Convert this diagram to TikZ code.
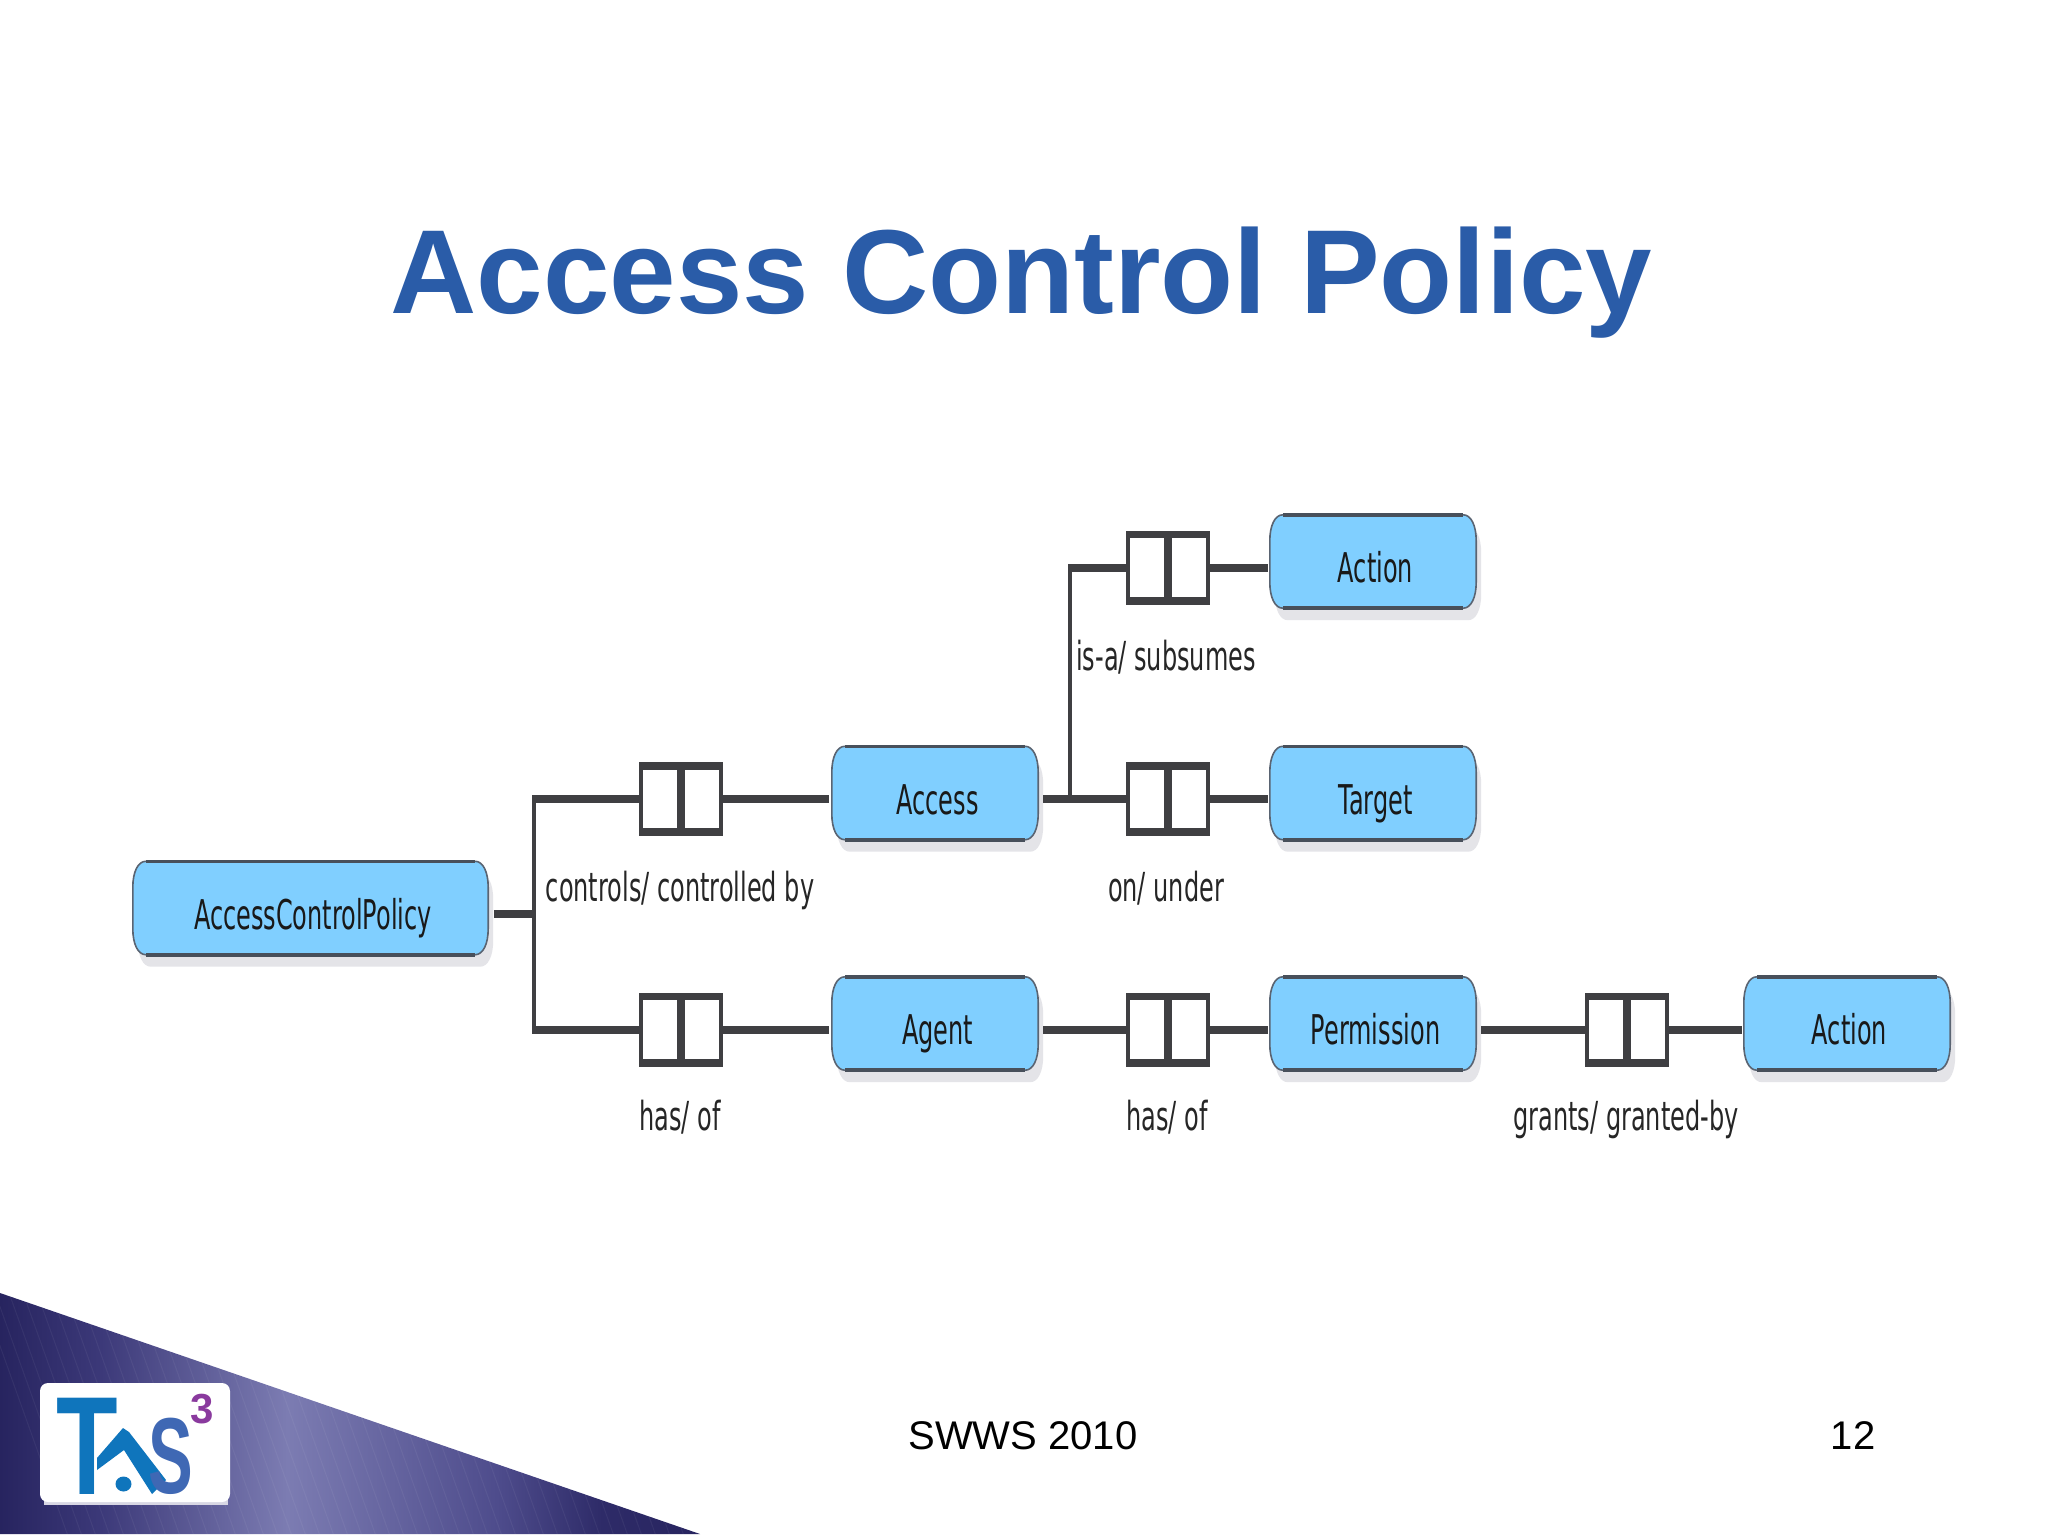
\documentclass[tikz,border=0pt]{standalone}
\usepackage{fontspec}
\usetikzlibrary{backgrounds}
\setmainfont{Liberation Sans}
\newfontfamily\lblfont[FakeStretch=0.585]{DejaVu Sans}
\newfontfamily\relfont[FakeStretch=0.60]{DejaVu Sans}
\definecolor{titleblue}{HTML}{2A5CA8}
\definecolor{boxblue}{HTML}{80CFFF}
\definecolor{edgegray}{HTML}{5A6472}
\definecolor{linedark}{HTML}{3F3F42}
\definecolor{shadowgray}{HTML}{E4E4E8}
\definecolor{logoblue}{HTML}{0F75BC}
\definecolor{logomid}{HTML}{3F68B4}
\definecolor{logopurple}{HTML}{8A3A9E}
\definecolor{triA}{HTML}{27245F}
\definecolor{triB}{HTML}{3B3878}
\definecolor{triC}{HTML}{7C7CB2}
\definecolor{triD}{HTML}{4E4C8C}
\definecolor{triE}{HTML}{2E2B68}
\pgfdeclarehorizontalshading{trishade}{100bp}{color(0bp)=(triA); color(25bp)=(triA); color(32bp)=(triB); color(45.5bp)=(triC); color(60.5bp)=(triD); color(68bp)=(triE); color(75bp)=(triA); color(100bp)=(triA)}
\tikzset{
  classbox/.style={inner sep=0pt,minimum height=105pt,text height=38pt,text depth=8pt,align=center,font=\lblfont\fontsize{41pt}{45pt}\selectfont,text=black!90},
  rellabel/.style={inner sep=0pt,anchor=base,font=\relfont\fontsize{40pt}{44pt}\selectfont,text=black!85},
  connbox/.style={fill=linedark,inner sep=0pt,minimum width=84pt,minimum height=74pt},
  heavyline/.style={draw=linedark,line width=8pt},
  trunkline/.style={draw=linedark,line width=4.5pt},
}
% point relative to an anchor: node, anchor, right, down
\newcommand\pp[4]{([xshift=(#3)*1pt,yshift=-(#4)*1pt]#1.#2)}
% outline of a class box; the node's lower 12pt are left to the shadow
\newcommand\bpath[3]{\pp{#1}{north west}{13+#2}{#3} -- \pp{#1}{north east}{-13+#2}{#3}
  .. controls \pp{#1}{north east}{-5+#2}{#3} and \pp{#1}{north east}{#2}{11+#3} .. \pp{#1}{north east}{#2}{26+#3}
  -- \pp{#1}{south east}{#2}{-38+#3}
  .. controls \pp{#1}{south east}{#2}{-23+#3} and \pp{#1}{south east}{-5+#2}{-12+#3} .. \pp{#1}{south east}{-13+#2}{-12+#3}
  -- \pp{#1}{south west}{13+#2}{-12+#3}
  .. controls \pp{#1}{south west}{5+#2}{-12+#3} and \pp{#1}{south west}{#2}{-23+#3} .. \pp{#1}{south west}{#2}{-38+#3}
  -- \pp{#1}{north west}{#2}{26+#3}
  .. controls \pp{#1}{north west}{#2}{11+#3} and \pp{#1}{north west}{5+#2}{#3} .. cycle}
\newcommand\classnode[5]{% name, cx, y, width, text
  \node[classbox,minimum width=#4pt] (#1) at (#2,#3) {\hspace*{5pt}#5};
  \begin{pgfonlayer}{background}
    \fill[shadowgray] \bpath{#1}{5}{12};
    \fill[boxblue] \bpath{#1}{0}{0};
    \draw[edgegray,line width=1.6pt] \bpath{#1}{0}{0};
    \draw[edgegray!80!black,line width=3.6pt] \pp{#1}{north west}{13}{0} -- \pp{#1}{north east}{-13}{0};
    \draw[edgegray!80!black,line width=3.6pt] \pp{#1}{south west}{13}{-12} -- \pp{#1}{south east}{-13}{-12};
  \end{pgfonlayer}}
\newcommand\connnode[3]{% name, cx, y
  \node[connbox] (#1) at (#2,#3) {};
  \fill[white] \pp{#1}{north west}{4}{8} rectangle \pp{#1}{south west}{38}{-8};
  \fill[white] \pp{#1}{north east}{-4}{8} rectangle \pp{#1}{south east}{-38}{-8};}
\begin{document}
\begin{tikzpicture}[x=1pt,y=-1pt]
\useasboundingbox (0,0) rectangle (2048,1536);
\begin{pgfonlayer}{background}
  \fill[white] (0,0) rectangle (2048,1536);
\end{pgfonlayer}

\node[inner sep=0pt,anchor=base,text=titleblue,font=\bfseries\fontsize{119.5pt}{125pt}\selectfont] (title) at (1021.5,313) {Access Control Policy};

% class boxes
\classnode{acp}{310.5}{914}{355}{AccessControlPolicy}
\classnode{act}{1373}{567.5}{206}{Action}
\classnode{tgt}{1373}{799}{206}{Target}
\classnode{acc}{935}{799}{206}{Access}
\classnode{agt}{935}{1029.5}{206}{Agent}
\classnode{prm}{1373}{1029.5}{206}{Permission}
\classnode{acb}{1847}{1029.5}{206}{Action}

% relationship connectors
\connnode{c1}{681}{799}
\connnode{c2}{681}{1029.5}
\connnode{c3}{1168}{567.5}
\connnode{c4}{1168}{799}
\connnode{c5}{1168}{1029.5}
\connnode{c6}{1627}{1029.5}

\coordinate (tm) at (534,914);
\coordinate (tt) at (534,799);
\coordinate (tb) at (534,1029.5);
\coordinate (vb) at (1070,799);
\coordinate (vt) at (1070,567.5);
\path[trunkline] (tt) -- (tb);
\path[trunkline] (vt) -- (vb);
\draw[heavyline,shorten <=6pt] (acp.east) -- (tm);
\draw[heavyline,shorten <=-2pt] (tt) -- (c1.west);
\draw[heavyline,shorten <=-2pt] (tb) -- (c2.west);
\draw[heavyline,shorten >=3pt] (c1.east) -- (acc.west);
\draw[heavyline,shorten >=3pt] (c2.east) -- (agt.west);
\draw[heavyline,shorten <=5pt] (acc.east) -- (c4.west);
\draw[heavyline,shorten <=5pt] (agt.east) -- (c5.west);
\draw[heavyline,shorten <=-2pt] (vt) -- (c3.west);
\draw[heavyline,shorten >=2pt] (c3.east) -- (act.west);
\draw[heavyline,shorten >=2pt] (c4.east) -- (tgt.west);
\draw[heavyline,shorten >=2pt] (c5.east) -- (prm.west);
\draw[heavyline,shorten <=5pt] (prm.east) -- (c6.west);
\draw[heavyline,shorten >=2pt] (c6.east) -- (acb.west);

% relationship labels
\node[rellabel] (l1) at (680,901) {controls/ controlled by};
\node[rellabel] (l2) at (680,1130) {has/ of};
\node[rellabel] (l3) at (1166,670) {is-a/ subsumes};
\node[rellabel] (l4) at (1166,901) {on/ under};
\node[rellabel] (l5) at (1167,1130) {has/ of};
\node[rellabel] (l6) at (1626,1130) {grants/ granted-by};

% corner triangle
\path[shading=trishade] (0,1293) -- (700,1534) -- (0,1534) -- cycle;
\begin{scope}
  \clip (0,1293) -- (700,1534) -- (0,1534) -- cycle;
  \foreach \hx in {0,14,...,700} {
    \draw[white,opacity=0.05,line width=1pt] (\hx-20,1290) -- (\hx+68,1536);
  }
\end{scope}

% logo
\fill[white!80!triB] (44,1498) rectangle (228,1505);
\fill[white,rounded corners=8pt] (40,1383) rectangle (230,1502);
\node[inner sep=0pt,anchor=base,text=logoblue,font=\bfseries\fontsize{140pt}{140pt}\selectfont,xscale=0.72] (logot) at (87,1494) {T};
\fill[logoblue] (123,1428) -- (129,1432) -- (166,1480) -- (152,1494) -- (124,1450) -- (97,1470) -- (97,1458) -- cycle;
\fill[logoblue] (123.5,1484) ellipse [x radius=8,y radius=7.5];
\node[inner sep=0pt,anchor=base,text=logomid,font=\bfseries\fontsize{108pt}{108pt}\selectfont,xscale=0.62] (logos) at (171,1493) {S};
\node[inner sep=0pt,anchor=base,text=logopurple,font=\bfseries\fontsize{42pt}{42pt}\selectfont] (logo3) at (202,1423) {3};

% footer
\node[inner sep=0pt,anchor=base,text=black,font=\fontsize{40pt}{44pt}\selectfont] (foot) at (1023,1449) {SWWS 2010};
\node[inner sep=0pt,anchor=base,text=black,font=\fontsize{40pt}{44pt}\selectfont] (page) at (1853,1449) {12};
\end{tikzpicture}
\end{document}
